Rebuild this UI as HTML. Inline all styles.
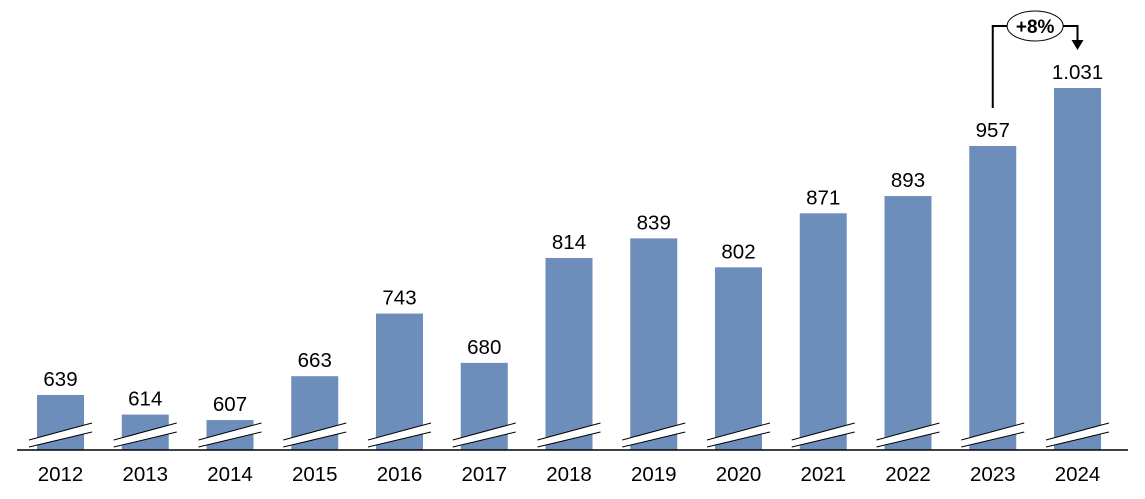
<!DOCTYPE html>
<html><head><meta charset="utf-8"><style>
html,body{margin:0;padding:0;background:#fff;}
svg text{font-family:"Liberation Sans",sans-serif;}
</style></head><body>
<svg id="chart" width="1145" height="494" viewBox="0 0 1145 494" xmlns="http://www.w3.org/2000/svg"></svg>
<script>
const categories=["2012","2013","2014","2015","2016","2017","2018","2019","2020","2021","2022","2023","2024"];
const values=[639,614,607,663,743,680,814,839,802,871,893,957,1031];
const valueLabels=["639","614","607","663","743","680","814","839","802","871","893","957","1.031"];
const growthLabel="+8%";

const svg=document.getElementById('chart');
const NS='http://www.w3.org/2000/svg';
const baseY=450, barW=47;
function x(i){return 60.5+i*84.75;}
function y(v){return 395-(v-639)*0.7832;}
function mk(tag,attrs,parent){const e=document.createElementNS(NS,tag);for(const k in attrs)e.setAttribute(k,attrs[k]);(parent||svg).appendChild(e);return e;}

categories.forEach((c,i)=>{
  const cx=x(i), top=y(values[i]);
  const g=mk('g',{});
  
  
  mk('rect',{x:cx-barW/2,y:top,width:barW,height:baseY-top,fill:'#6d8dba'},g);
  const l=cx-31.5,r=cx+31.5;
  mk('polygon',{points:`${l},440 ${r},423 ${r},432 ${l},447`,fill:'#fff'},g);
  mk('line',{x1:l,y1:440,x2:r,y2:423,stroke:'#000','stroke-width':1},g);
  mk('line',{x1:l,y1:447,x2:r,y2:432,stroke:'#000','stroke-width':1},g);
  const t=mk('text',{x:cx,y:top-9,'text-anchor':'middle','font-size':20.5,fill:'#000'});
  
  
  t.textContent=valueLabels[i];
  const xl=mk('text',{x:cx,y:481,'text-anchor':'middle','font-size':20.5,fill:'#000'});
  
  
  xl.textContent=c;
});
const axis=mk('line',{x1:17,y1:baseY,x2:1128,y2:baseY,stroke:'#000','stroke-width':1.5});



const n=categories.length;
const ax1=x(n-2), ax2=x(n-1);
const ann=mk('g',{});


mk('polyline',{points:`${ax1},${y(values[n-2])-38} ${ax1},26 ${ax2},26 ${ax2},42`,fill:'none',stroke:'#000','stroke-width':2},ann);
mk('polygon',{points:`${ax2-6},40 ${ax2+6},40 ${ax2},50`,fill:'#000'},ann);
const mid=(ax1+ax2)/2;
mk('ellipse',{cx:mid,cy:26,rx:28,ry:15,fill:'#fff',stroke:'#000','stroke-width':1},ann);
const gt=mk('text',{x:mid,y:33,'text-anchor':'middle','font-size':19,'font-weight':'bold',fill:'#000'},ann);


gt.textContent=growthLabel;
</script>
</body></html>
